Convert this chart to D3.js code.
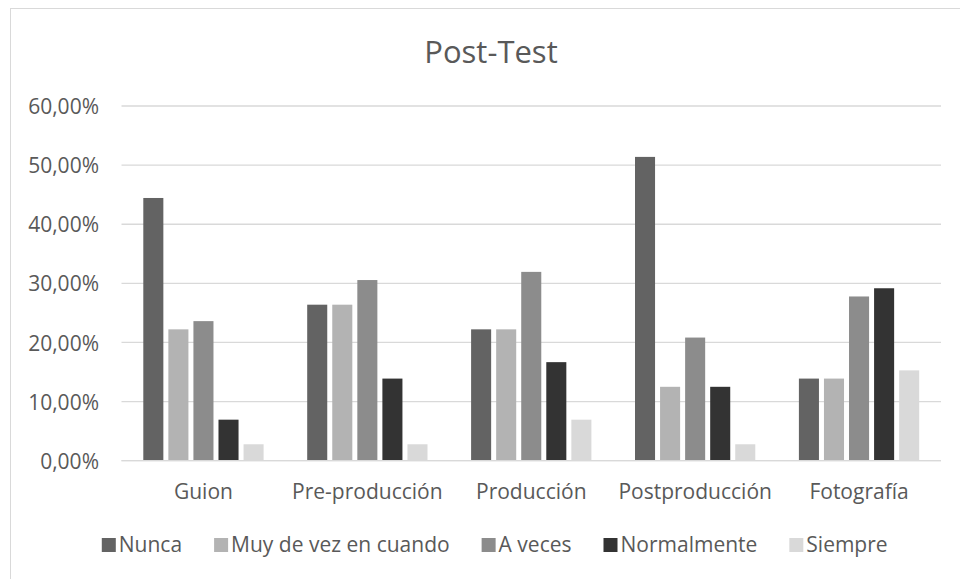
<!DOCTYPE html>
<html>
<head>
<meta charset="utf-8">
<script src="https://cdn.jsdelivr.net/npm/d3@7"></script>
<style>
  html, body { margin: 0; padding: 0; background: #ffffff; }
  svg { display: block; }
  text { font-family: "Open Sans", "Noto Sans", sans-serif; fill: #595959; }
</style>
</head>
<body>
<svg id="chart" width="960" height="579"></svg>
<script>
// Survey answers per production stage (share of respondents)
const categories = ["Guion", "Pre-producción", "Producción", "Postproducción", "Fotografía"];
const seriesNames = ["Nunca", "Muy de vez en cuando", "A veces", "Normalmente", "Siempre"];
const nunca        = [0.4444, 0.2639, 0.2222, 0.5139, 0.1389];
const muyDeVez     = [0.2222, 0.2639, 0.2222, 0.1250, 0.1389];
const aVeces       = [0.2361, 0.3056, 0.3194, 0.2083, 0.2778];
const normalmente  = [0.0694, 0.1389, 0.1667, 0.1250, 0.2917];
const siempre      = [0.0278, 0.0278, 0.0694, 0.0278, 0.1528];
const yTicks = [0, 0.1, 0.2, 0.3, 0.4, 0.5, 0.6];
const seriesColors = ["#636363", "#b3b3b3", "#8c8c8c", "#333333", "#d9d9d9"];

const seriesValues = [nunca, muyDeVez, aVeces, normalmente, siempre];
const rows = categories.map((c, i) => ({
  category: c,
  values: seriesNames.map((s, j) => ({ series: s, value: seriesValues[j][i] }))
}));

const labelFont = "21px";
const svg = d3.select("#chart");

// chart frame (extends past the right and bottom edges)
svg.append("rect")
  .attr("x", 10.5).attr("y", 8.5)
  .attr("width", 980).attr("height", 600)
  .attr("fill", "#ffffff")
  .attr("stroke", "#d9d9d9").attr("stroke-width", 1);

const plot = { left: 121.5, right: 941, top: 106, bottom: 460.7 };

const y = d3.scaleLinear().domain([0, 0.6]).range([plot.bottom, plot.top]);
const x0 = d3.scaleBand().domain(categories).range([plot.left, plot.right]).padding(0);
const groupInset = 21.8;
const x1 = d3.scaleBand().domain(seriesNames)
  .range([groupInset, x0.bandwidth() - groupInset])
  .paddingInner(0.2).paddingOuter(0);
const color = d3.scaleOrdinal().domain(seriesNames).range(seriesColors);

// horizontal gridlines
svg.append("g")
  .selectAll("line")
  .data(yTicks)
  .join("line")
  .attr("x1", plot.left).attr("x2", plot.right)
  .attr("y1", d => y(d)).attr("y2", d => y(d))
  .attr("stroke", "#d9d9d9").attr("stroke-width", 1.3);

// y axis labels
const fmt = d => (d * 100).toFixed(2).replace(".", ",") + "%";
const yAxis = d3.axisLeft(y).tickValues(yTicks).tickFormat(fmt).tickSize(0).tickPadding(0);
const yG = svg.append("g").attr("transform", `translate(99,0)`).call(yAxis);
yG.select(".domain").remove();
yG.selectAll("text")
  .attr("fill", "#595959")
  .style("font-family", '"Open Sans", "Noto Sans", sans-serif')
  .style("font-size", labelFont)
  .attr("dy", "0.36em");

// bars
const groups = svg.append("g")
  .selectAll("g")
  .data(rows)
  .join("g")
  .attr("transform", d => `translate(${x0(d.category)},0)`);

groups.selectAll("rect")
  .data(d => d.values)
  .join("rect")
  .attr("x", d => x1(d.series))
  .attr("width", x1.bandwidth())
  .attr("y", d => y(d.value))
  .attr("height", d => y(0) - y(d.value))
  .attr("fill", d => color(d.series));

// baseline axis line
svg.append("line")
  .attr("x1", plot.left).attr("x2", plot.right)
  .attr("y1", y(0)).attr("y2", y(0))
  .attr("stroke", "#d9d9d9").attr("stroke-width", 1.3);

// category labels
const xAxis = d3.axisBottom(x0).tickSize(0).tickPadding(0);
const xG = svg.append("g").attr("transform", `translate(0,${plot.bottom})`).call(xAxis);
xG.select(".domain").remove();
xG.selectAll("text")
  .attr("fill", "#595959")
  .attr("y", 38.5).attr("dy", 0)
  .style("font-family", '"Open Sans", "Noto Sans", sans-serif')
  .style("font-size", labelFont);

// title
svg.append("text")
  .attr("x", 491).attr("y", 63)
  .attr("text-anchor", "middle")
  .style("font-size", "31px")
  .text("Post-Test");

// legend, centred under the chart
const legend = svg.append("g");
const items = legend.selectAll("g")
  .data(seriesNames)
  .join("g");
items.append("rect")
  .attr("y", 538).attr("width", 14).attr("height", 14)
  .attr("fill", d => color(d));
items.append("text")
  .attr("x", 17).attr("y", 552)
  .style("font-size", labelFont)
  .text(d => d);

let cursor = 0;
const gap = 32;
items.each(function () {
  const g = d3.select(this);
  const w = 17 + g.select("text").node().getComputedTextLength();
  g.attr("transform", `translate(${cursor},0)`);
  cursor += w + gap;
});
const totalW = cursor - gap;
legend.attr("transform", `translate(${494.7 - totalW / 2},0)`);
</script>
</body>
</html>
